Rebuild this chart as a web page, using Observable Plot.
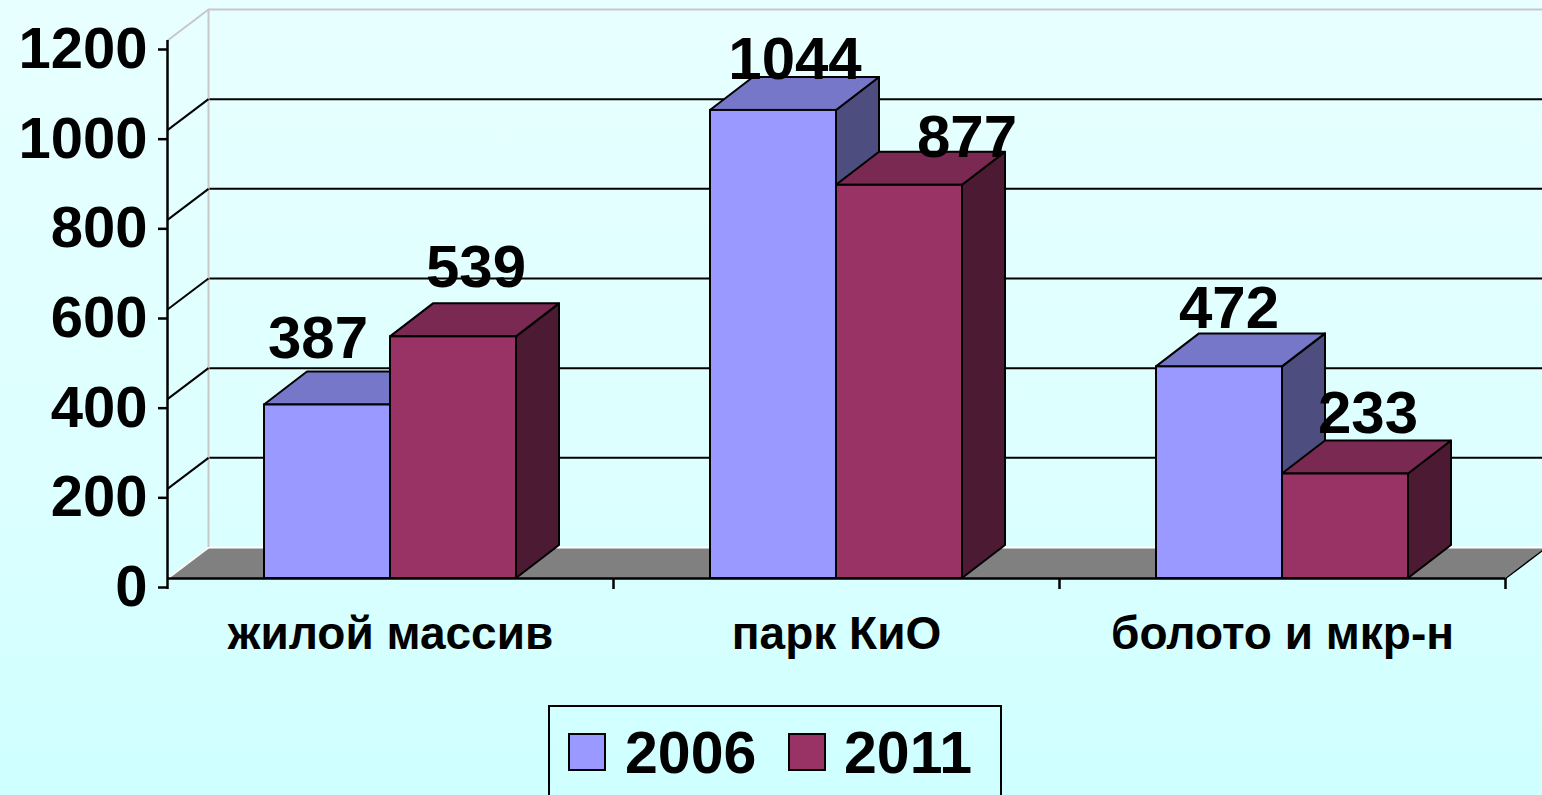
<!DOCTYPE html>
<html>
<head>
<meta charset="utf-8">
<script src="https://cdn.jsdelivr.net/npm/d3@7"></script>
<script src="https://cdn.jsdelivr.net/npm/@observablehq/plot@0.6"></script>
<style>
  html, body { margin: 0; padding: 0; }
  body {
    width: 1542px; height: 795px; overflow: hidden; position: relative;
    background: linear-gradient(to bottom, #e8ffff 0%, #ddffff 60%, #cfffff 100%);
    font-family: "Liberation Sans", Arial, sans-serif; font-weight: bold; color: #000;
  }
  #chart { position: absolute; left: 0; top: 0; }
  #legend {
    position: absolute; left: 548px; top: 705px; width: 454px; height: 120px;
    border: 2px solid #000; box-sizing: border-box;
  }
  .sw { position: absolute; top: 26px; width: 38px; height: 38px; border: 2px solid #000; box-sizing: border-box; }
  .lt { position: absolute; top: 17px; font-size: 59px; line-height: 1; font-weight: bold; }
</style>
</head>
<body>
<div id="chart"></div>
<div id="legend"></div>
<script>
// ---- data ----
const categories = ["жилой массив", "парк КиО", "болото и мкр-н"];
const seriesNames = ["2006", "2011"];
const values2006 = [387, 1044, 472];
const values2011 = [539, 877, 233];
const yTicks = [0, 200, 400, 600, 800, 1000, 1200];

// ---- styling / layout constants ----
const W = 1542, H = 700;
const mL = 167, mR = 37, mT = 40, mB = 122;
const xPPU = (W - mL - mR) / categories.length;   // px per category unit
const yPPU = (H - mT - mB) / 1200;                 // px per value unit
const BAR_W = 126 / xPPU;
const BAR_DX = 43 / xPPU, BAR_DY = 33 / yPPU;
const WALL_DX = 41 / xPPU, WALL_DY = 31 / yPPU;
const colors = {
  "2006": {front: "#9999ff", top: "#7777c9", side: "#4d4d80"},
  "2011": {front: "#993366", top: "#7a2952", side: "#4d1a33"}
};
// small per-label nudges (px) to mimic the original label placement
const labelNudgeX = [[-31, 1], [0, 46], [-12, 1]];
const labelNudgeY = [[-14, -17], [2, 5], [-6, -8]];

// ---- derived tables ----
const seriesValues = [values2006, values2011];
const bars = [];
categories.forEach((c, i) => {
  seriesNames.forEach((s, k) => {
    const x0 = i + 0.5 - BAR_W + k * BAR_W;
    bars.push({id: `${i}-${k}`, cat: c, series: s, value: seriesValues[k][i], x0, x1: x0 + BAR_W,
               nx: labelNudgeX[i][k], ny: labelNudgeY[i][k]});
  });
});
const sidePts = bars.flatMap(b => [
  {id: b.id, series: b.series, x: b.x1, ya: 0, yb: b.value},
  {id: b.id, series: b.series, x: b.x1 + BAR_DX, ya: BAR_DY, yb: b.value + BAR_DY}
]);
const topPts = bars.flatMap(b => [
  {id: b.id, series: b.series, x: b.x0, ya: b.value, yb: b.value},
  {id: b.id, series: b.series, x: b.x0 + BAR_DX, ya: b.value, yb: b.value + BAR_DY},
  {id: b.id, series: b.series, x: b.x1, ya: b.value, yb: b.value + BAR_DY},
  {id: b.id, series: b.series, x: b.x1 + BAR_DX, ya: b.value + BAR_DY, yb: b.value + BAR_DY}
]);
const labels = bars.map(b => ({
  text: String(b.value),
  x: (b.x0 + b.x1) / 2 + BAR_DX / 2 + b.nx / xPPU,
  y: b.value + BAR_DY - b.ny / yPPU
}));
const nCat = categories.length;
const floorPts = [
  {x: 0, ya: 0, yb: 0},
  {x: WALL_DX, ya: 0, yb: WALL_DY},
  {x: nCat, ya: 0, yb: WALL_DY},
  {x: nCat + WALL_DX, ya: WALL_DY, yb: WALL_DY}
];
const innerTicks = yTicks.filter(v => v > 0 && v < 1200);

const barMarks = [];
for (const s of seriesNames) {
  const f = d => d.series === s;
  barMarks.push(
    Plot.areaY(sidePts.filter(f), {x: "x", y1: "ya", y2: "yb", z: "id", fill: colors[s].side, stroke: "#000", strokeWidth: 2, strokeLinejoin: "round"}),
    Plot.areaY(topPts.filter(f), {x: "x", y1: "ya", y2: "yb", z: "id", fill: colors[s].top, stroke: "#000", strokeWidth: 2, strokeLinejoin: "round"}),
    Plot.rect(bars.filter(f), {x1: "x0", x2: "x1", y1: 0, y2: "value", fill: colors[s].front, stroke: "#000", strokeWidth: 2})
  );
}

const chart = Plot.plot({
  width: W, height: H,
  marginLeft: mL, marginRight: mR, marginTop: mT, marginBottom: mB,
  style: {background: "transparent", fontFamily: "'Liberation Sans', Arial, sans-serif", fontWeight: "bold", color: "#000", overflow: "visible"},
  x: {type: "linear", domain: [0, nCat], label: null},
  y: {type: "linear", domain: [0, 1200], label: null, nice: false},
  marks: [
    // floor
    Plot.areaY(floorPts, {x: "x", y1: "ya", y2: "yb", fill: "#808080"}),
    // back wall grid lines
    Plot.ruleY(innerTicks, {y: d => d + WALL_DY, x1: WALL_DX, x2: nCat + 0.2, stroke: "#000", strokeWidth: 2}),
    Plot.ruleY([1200], {y: d => d + WALL_DY, x1: WALL_DX, x2: nCat + 0.2, stroke: "#c8c8c8", strokeWidth: 2}),
    Plot.ruleY([0], {y: d => d + WALL_DY, x1: WALL_DX, x2: nCat + WALL_DX, stroke: "#ffffff", strokeWidth: 2}),
    Plot.ruleX([WALL_DX], {y1: WALL_DY, y2: 1200 + WALL_DY, stroke: "#c8c8c8", strokeWidth: 2}),
    // side wall diagonals
    Plot.link(innerTicks, {x1: 0, y1: d => d, x2: WALL_DX, y2: d => d + WALL_DY, stroke: "#000", strokeWidth: 2}),
    Plot.link([1200], {x1: 0, y1: d => d, x2: WALL_DX, y2: d => d + WALL_DY, stroke: "#c8c8c8", strokeWidth: 2}),
    Plot.link([0], {x1: 0, y1: d => d, x2: WALL_DX, y2: d => d + WALL_DY, stroke: "#ffffff", strokeWidth: 2}),
    Plot.link([0], {x1: nCat, y1: 0, x2: nCat + WALL_DX, y2: WALL_DY, stroke: "#000", strokeWidth: 1.5}),
    // bars
    ...barMarks,
    // axes
    Plot.ruleX([0], {y1: 0, y2: 1200, stroke: "#000", strokeWidth: 2.5}),
    Plot.ruleY([0], {x1: 0, x2: nCat, stroke: "#000", strokeWidth: 2.5}),
    Plot.axisY({ticks: yTicks, tickSize: 9, tickPadding: 11, fontSize: 58, dy: 9, strokeWidth: 2.5, label: null,
                tickFormat: d => String(d)}),
    Plot.axisX({ticks: d3.range(nCat + 1), tickSize: 11, tickFormat: () => "", strokeWidth: 2.5, label: null}),
    Plot.axisX({ticks: categories.map((c, i) => i + 0.5), tickSize: 0, tickPadding: 38, fontSize: 46,
                tickFormat: d => categories[Math.floor(d)], label: null}),
    // value labels
    Plot.text(labels, {x: "x", y: "y", text: "text", fontSize: 60, fontWeight: "bold", dy: -19.2, fill: "#000"})
  ]
});
document.getElementById("chart").appendChild(chart);

// legend
const legend = document.getElementById("legend");
const lx = [[18, 75], [238, 294]];
seriesNames.forEach((s, k) => {
  const sw = document.createElement("div");
  sw.className = "sw"; sw.style.left = lx[k][0] + "px"; sw.style.background = colors[s].front;
  const t = document.createElement("div");
  t.className = "lt"; t.style.left = lx[k][1] + "px"; t.textContent = s;
  legend.appendChild(sw); legend.appendChild(t);
});
</script>
</body>
</html>
